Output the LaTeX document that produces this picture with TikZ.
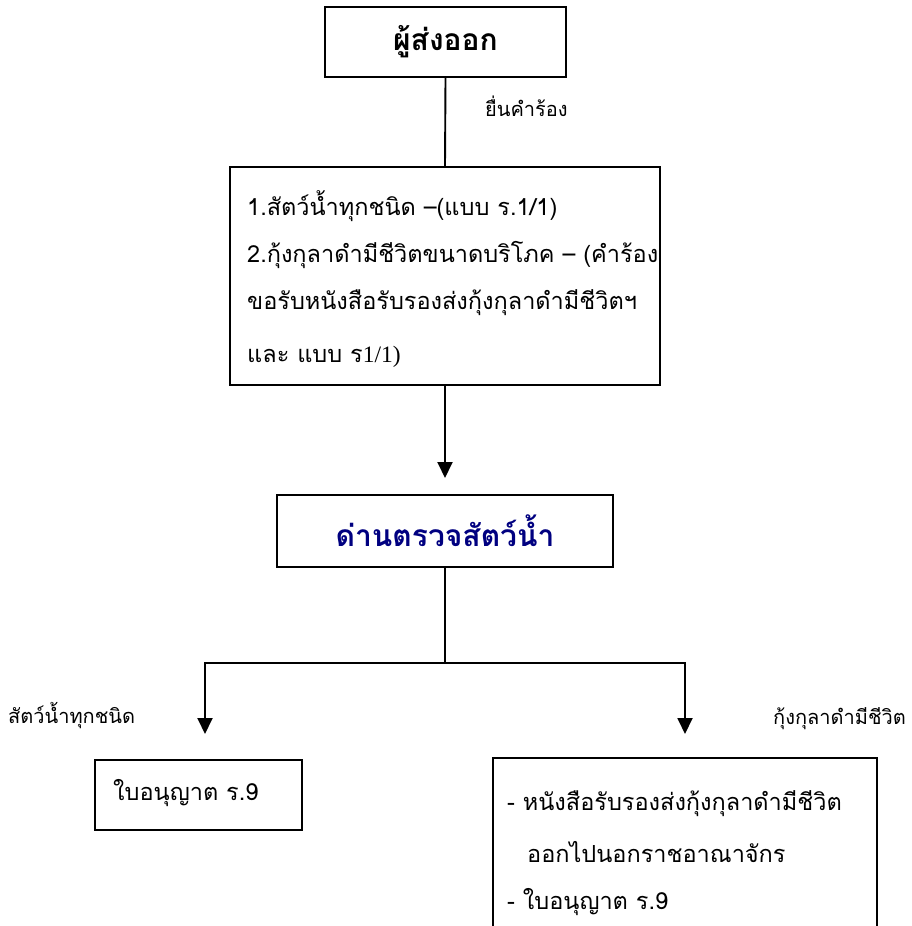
\documentclass[tikz,border=0pt]{standalone}
\usepackage{fontspec}
\setmainfont[Script=Thai]{Loma}
\newfontfamily\serifl{Liberation Serif}
\usetikzlibrary{arrows.meta}
\definecolor{navytext}{RGB}{0,0,128}
\begin{document}
\begin{tikzpicture}[x=1pt,y=-1pt,
  box/.style={draw, line width=1.9pt, inner sep=0pt},
  conn/.style={line width=1.9pt},
  arr/.style={conn, -{Triangle[width=15pt,length=16pt]}},
  body/.style={font=\fontsize{23.5}{28}\selectfont, inner sep=0pt},
  lab/.style={font=\fontsize{20}{24}\selectfont, inner sep=0pt},
  head/.style={font=\fontsize{30}{36}\selectfont\bfseries, inner sep=0pt}]
\clip (0,0) rectangle (911,926);
% boxes
\node[box, head, minimum width=241pt, minimum height=70pt] (exp) at (445.5,42) {ผู้ส่งออก};
\node[box, minimum width=430pt, minimum height=218pt] (req) at (445,276) {};
\node[box, head, text=navytext, minimum width=336pt, minimum height=72pt] (chk) at (445,531) {ด่านตรวจสัตว์น้ำ};
\node[box, minimum width=207pt, minimum height=70pt] (lbox) at (198.5,795) {};
\node[box, minimum width=384pt, minimum height=202pt] (rbox) at (685,859) {};
% texts in request box
\node[body, anchor=base west] (r1) at (247,215) {1.สัตว์น้ำทุกชนิด –(แบบ ร.1/1)};
\node[body, anchor=base west] (r2) at (247,262) {2.กุ้งกุลาดำมีชีวิตขนาดบริโภค – (คำร้อง};
\node[body, anchor=base west] (r3) at (247,309) {ขอรับหนังสือรับรองส่งกุ้งกุลาดำมีชีวิตฯ};
\node[body, anchor=base west] (r4) at (247,362) {และ แบบ ร{\serifl 1/1)}};
% texts in result boxes
\node[body, anchor=base west] (l1) at (113,800) {ใบอนุญาต ร.9};
\node[body, anchor=base west] (p1) at (507,810) {- หนังสือรับรองส่งกุ้งกุลาดำมีชีวิต};
\node[body, anchor=base west] (p2) at (527,862) {ออกไปนอกราชอาณาจักร};
\node[body, anchor=base west] (p3) at (507,909) {- ใบอนุญาต ร.9};
% labels
\node[lab, anchor=base west] (lab0) at (485,116) {ยื่นคำร้อง};
\node[lab, anchor=base west] (labl) at (8,723) {สัตว์น้ำทุกชนิด};
\node[lab, anchor=base west] (labr) at (773,724) {กุ้งกุลาดำมีชีวิต};
% connectors
\coordinate (tip1) at (445,478);
\coordinate (split) at (445,663);
\coordinate (lcorner) at (205,663);
\coordinate (rcorner) at (685,663);
\coordinate (ltip) at (205,734);
\coordinate (rtip) at (685,734);
\draw[conn] (exp.south) -- (req.north);
\draw[arr] (req.south) -- (tip1);
\draw[conn] (chk.south) -- (split);
\draw[arr] (split) -- (lcorner) -- (ltip);
\draw[arr] (split) -- (rcorner) -- (rtip);
\end{tikzpicture}
\end{document}
